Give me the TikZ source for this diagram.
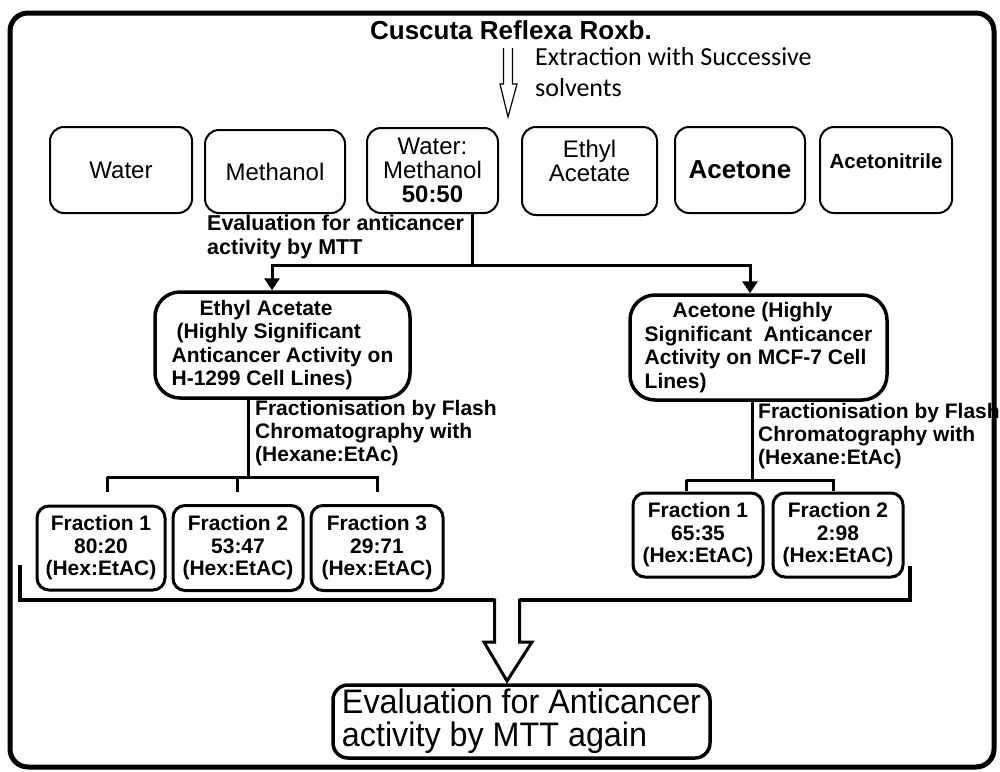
\documentclass[tikz,border=0pt]{standalone}
\usepackage{fontspec}
\setmainfont{Liberation Sans}
\newfontfamily\calib{Carlito}
\newfontfamily\narrowf[FakeStretch=0.95]{Liberation Sans}
\usetikzlibrary{arrows.meta}
\newcommand{\fs}[2]{\fontsize{#1}{#2}\selectfont}
\begin{document}
\begin{tikzpicture}[x=1pt,y=-1pt,
  solvbox/.style={draw,line width=2pt,rounded corners=14pt,inner sep=0pt,align=center},
  bigbox/.style={draw,line width=3.5pt,rounded corners=25pt,inner sep=0pt,align=left,font=\bfseries\fs{21}{23.5}},
  fracbox/.style={draw,line width=3pt,rounded corners=12pt,inner sep=0pt,align=center,font=\bfseries\fs{21}{22.5}},
  conn/.style={line width=3pt},
  tip/.style={-{Triangle[width=15pt,length=12pt]}},
  lbl/.style={anchor=north west,align=left,inner sep=0pt,font=\bfseries\fs{21}{23}}
]
\useasboundingbox (0,0) rectangle (1000,771);
% outer frame
\draw[line width=5pt,rounded corners=18pt] (10,13) rectangle (994,767);

% title
\node[font=\bfseries\fs{26}{30}] (title) at (511,30) {Cuscuta Reflexa Roxb.};
% hollow arrow
\coordinate (t1) at (508,117);
\draw[line width=1.2pt,fill=white] (503.5,48) -- (503.5,84) -- (500,84) -- (t1) -- (517,84) -- (512.5,84) -- (512.5,48);
\node[anchor=north west,align=left,inner sep=0pt,font=\calib\fs{26}{31}] (extr) at (535,47) {Extraction with Successive\\solvents};

% solvent boxes
\node[solvbox,minimum width=142pt,minimum height=86pt,font=\fs{24}{26}] (water) at (121,170) {Water};
\node[solvbox,minimum width=140pt,minimum height=83pt,font=\fs{24}{26}] (meth) at (275,171.5) {Methanol};
\node[solvbox,minimum width=131pt,minimum height=85pt,font=\fs{24}{24}] (wm) at (432.5,170.5) {Water:\\Methanol\\\textbf{50:50}};
\node[solvbox,minimum width=135pt,minimum height=88pt,font=\fs{24}{24}] (ethyl) at (589.5,171) {Ethyl\\Acetate\\[-4pt]};
\node[solvbox,minimum width=130pt,minimum height=86pt,font=\bfseries\fs{26}{26}] (acet) at (740,170) {Acetone};
\node[solvbox,minimum width=132pt,minimum height=86pt,font=\bfseries\fs{20.5}{22}] (nitr) at (886,170) {Acetonitrile\\[-4pt]};

% evaluation label
\node[lbl,font=\bfseries\fs{21.5}{24}] (evl) at (207,215) {Evaluation for anticancer\\activity by MTT};

% big boxes
\node[bigbox,minimum width=255pt,minimum height=106pt] (ea) at (282.5,345) {\hspace*{28pt}Ethyl Acetate\\\hspace*{5pt}(Highly Significant\\Anticancer Activity on\\H-1299 Cell Lines)};
\node[bigbox,minimum width=257pt,minimum height=105pt] (ac) at (758.5,347.5) {\hspace*{28pt}Acetone (Highly\\Significant\ \ Anticancer\\Activity on MCF-7 Cell\\Lines)};

% connectors from water:methanol
\coordinate (j0) at (472,265);
\coordinate (jl) at (272,265);
\coordinate (jr) at (750,265);
\draw[conn] (wm.south -| j0) -- (j0);
\draw[conn,tip] (j0) -- (jl) -- (jl |- ea.north);
\draw[conn,tip] (j0) -- (jr) -- (jr |- ac.north);

% fractionisation labels
\node[lbl] (frl) at (255,400) {Fractionisation by Flash\\Chromatography with\\(Hexane:EtAc)};
\node[lbl] (frr) at (758,403) {Fractionisation by Flash\\Chromatography with\\(Hexane:EtAc)};

% left fractions
\node[fracbox,minimum width=128pt,minimum height=84pt] (f1) at (101,548) {Fraction 1\\80:20\\(Hex:EtAC)};
\node[fracbox,minimum width=130pt,minimum height=85pt] (f2) at (238,548) {Fraction 2\\53:47\\(Hex:EtAC)};
\node[fracbox,minimum width=132pt,minimum height=85pt] (f3) at (377,548) {Fraction 3\\29:71\\(Hex:EtAC)};
% right fractions
\node[fracbox,minimum width=130pt,minimum height=84pt] (g1) at (698,535) {Fraction 1\\65:35\\(Hex:EtAC)};
\node[fracbox,minimum width=130pt,minimum height=84pt] (g2) at (838,535) {Fraction 2\\2:98\\(Hex:EtAC)};

% left tree
\coordinate (l0) at (248,477);
\coordinate (l1) at (107,477);
\coordinate (l2) at (237,477);
\coordinate (l3) at (377,477);
\draw[conn] (ea.south -| l0) -- (l0);
\draw[conn] (l1) -- ++(0,15) (l1) -- (l3) -- ++(0,15) (l2) -- ++(0,15);
% right tree
\coordinate (r0) at (752,480);
\coordinate (r1) at (686,480);
\coordinate (r2) at (833,480);
\draw[conn] (ac.south -| r0) -- (r0);
\draw[conn] (r1) -- ++(0,11) (r1) -- (r2) -- ++(0,11);

% bracket
\coordinate (b1) at (20,565);
\coordinate (b2) at (910,566);
\draw[line width=4pt] (b1) -- (20,600) -- (910,600) -- (b2);

% final box
\node[draw,line width=3.5pt,rounded corners=15pt,minimum width=377pt,minimum height=73pt,inner sep=0pt,align=left,font=\narrowf\fs{34}{33}] (fin) at (521.5,721.5) {Evaluation for Anticancer\\activity by MTT again};

% big hollow arrow
\coordinate (t2) at (507,681);
\fill[white] (494.5,598) -- (494.5,642) -- (484,642) -- (t2) -- (532,642) -- (519.5,642) -- (519.5,598) -- cycle;
\draw[line width=3pt,line join=miter] (494.5,598.5) -- (494.5,642) -- (484,642) -- (t2) -- (532,642) -- (519.5,642) -- (519.5,598.5);
\end{tikzpicture}
\end{document}
